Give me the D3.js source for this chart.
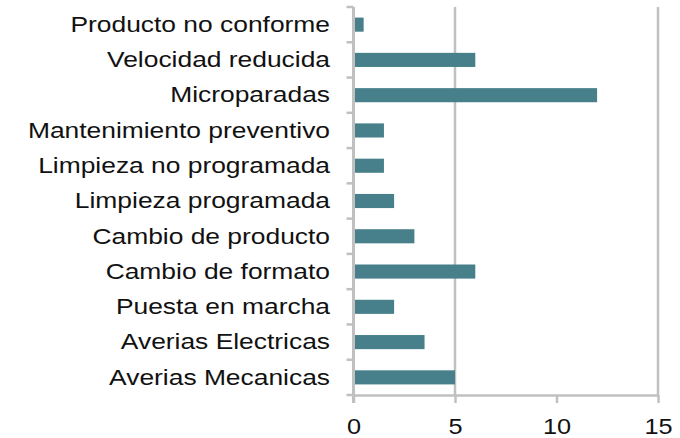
<!DOCTYPE html>
<html>
<head>
<meta charset="utf-8">
<script src="https://cdn.jsdelivr.net/npm/d3@7"></script>
<style>
    body { margin: 0; background: #fff; }
    svg { display: block; font-family: "Liberation Sans", Arial, sans-serif; }
</style>
</head>
<body>
<div id="chart"></div>
<script>
// categories top to bottom
var categories = [
    "Producto no conforme",
    "Velocidad reducida",
    "Microparadas",
    "Mantenimiento preventivo",
    "Limpieza no programada",
    "Limpieza programada",
    "Cambio de producto",
    "Cambio de formato",
    "Puesta en marcha",
    "Averias Electricas",
    "Averias Mecanicas"
];
var values = [0.5, 6, 12, 1.5, 1.5, 2, 3, 6, 2, 3.5, 5];
var xTicks = [0, 5, 10, 15];
var gridValues = [5, 15];

var width = 680, height = 438;
var gray = "#c0c0c0";
var barColor = "#47808a";

var svg = d3.select("#chart").append("svg")
    .attr("width", width)
    .attr("height", height);

var x = d3.scaleLinear()
    .domain([0, 15])
    .range([353.5, 658]);

var y = d3.scaleBand()
    .domain(categories)
    .range([7, 395])
    .paddingInner(0.6)
    .paddingOuter(0.3);

var plotBottom = y.range()[1];

// gridlines (only 5 and 15 show in the original)
svg.append("g")
    .selectAll("line")
    .data(gridValues)
    .enter().append("line")
    .attr("x1", function (d) { return x(d); })
    .attr("x2", function (d) { return x(d); })
    .attr("y1", y.range()[0])
    .attr("y2", plotBottom)
    .attr("stroke", gray)
    .attr("stroke-width", 2.5);

// bars
svg.append("g")
    .selectAll("rect")
    .data(categories)
    .enter().append("rect")
    .attr("x", x(0))
    .attr("y", function (d) { return y(d); })
    .attr("width", function (d, i) { return x(values[i]) - x(0); })
    .attr("height", y.bandwidth())
    .attr("fill", barColor);

// x axis
var xAxis = d3.axisBottom(x)
    .tickValues(xTicks)
    .tickSize(8)
    .tickSizeOuter(0);

var gX = svg.append("g")
    .attr("transform", "translate(0," + plotBottom + ")")
    .call(xAxis);

gX.select(".domain")
    .attr("stroke", gray)
    .attr("stroke-width", 2.5);
gX.selectAll(".tick line")
    .attr("stroke", gray)
    .attr("stroke-width", 2.5);
gX.selectAll(".tick text")
    .attr("y", 39)
    .attr("dy", 0)
    .attr("fill", "#111")
    .attr("font-size", 22)
    .attr("font-family", "Liberation Sans, Arial, sans-serif")
    .attr("transform", "scale(1.15,1)");

// y axis: line plus ticks on the band boundaries
var yAxisG = svg.append("g");
yAxisG.append("line")
    .attr("x1", x(0))
    .attr("x2", x(0))
    .attr("y1", y.range()[0])
    .attr("y2", plotBottom + 8)
    .attr("stroke", gray)
    .attr("stroke-width", 3);

yAxisG.selectAll(".ytick")
    .data(d3.range(categories.length + 1))
    .enter().append("line")
    .attr("class", "ytick")
    .attr("x1", x(0) - 7)
    .attr("x2", x(0))
    .attr("y1", function (i) { return y.range()[0] + i * y.step(); })
    .attr("y2", function (i) { return y.range()[0] + i * y.step(); })
    .attr("stroke", gray)
    .attr("stroke-width", 2.5);

// category labels
svg.append("g")
    .selectAll("g")
    .data(categories)
    .enter().append("g")
    .attr("transform", function (d) {
        return "translate(330," + (y(d) + y.bandwidth() / 2) + ") scale(1.2,1)";
    })
    .append("text")
    .attr("text-anchor", "end")
    .attr("dy", "0.33em")
    .attr("font-size", 22)
    .attr("fill", "#111")
    .text(function (d) { return d; });
</script>
</body>
</html>
